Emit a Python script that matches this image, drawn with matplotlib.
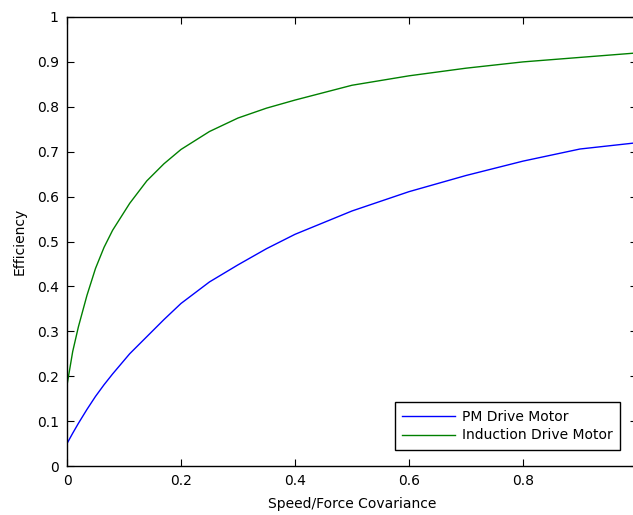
import matplotlib
matplotlib.use("Agg")
import matplotlib.pyplot as plt

plt.rcParams['font.family'] = ['DejaVu Sans']

# data
x = [0, 0.01, 0.02, 0.035, 0.05, 0.065, 0.08, 0.11, 0.14, 0.17, 0.2, 0.25, 0.3,
     0.35, 0.4, 0.5, 0.6, 0.7, 0.8, 0.9, 1.0]
pm_motor = [0.05, 0.073, 0.095, 0.126, 0.155, 0.181, 0.205, 0.25, 0.288, 0.326,
            0.362, 0.41, 0.448, 0.484, 0.516, 0.568, 0.611, 0.647, 0.679, 0.706, 0.72]
induction_motor = [0.18, 0.255, 0.31, 0.38, 0.44, 0.487, 0.525, 0.585, 0.635, 0.673,
                   0.705, 0.745, 0.775, 0.797, 0.815, 0.848, 0.869, 0.886, 0.90, 0.91, 0.92]

xticks = [0, 0.2, 0.4, 0.6, 0.8, 1.0]
xticklabels = ['0', '0.2', '0.4', '0.6', '0.8', '']
yticks = [0, 0.1, 0.2, 0.3, 0.4, 0.5, 0.6, 0.7, 0.8, 0.9, 1.0]
yticklabels = ['0', '0.1', '0.2', '0.3', '0.4', '0.5', '0.6', '0.7', '0.8', '0.9', '1']

W, H = 633, 515
fig = plt.figure(figsize=(W / 100, H / 100), dpi=100)
# axes right edge runs just past the picture, as in the reference crop
ax = fig.add_axes([67 / W, (H - 466) / H, 570 / W, 449 / H])

ax.plot(x, pm_motor, color='#0000ff', lw=1.0, label='PM Drive Motor')
ax.plot(x, induction_motor, color='#008000', lw=1.0, label='Induction Drive Motor')

ax.set_xlim(0, 1)
ax.set_ylim(0, 1)
ax.set_xticks(xticks)
ax.set_xticklabels(xticklabels)
ax.set_yticks(yticks)
ax.set_yticklabels(yticklabels)
ax.tick_params(direction='in', length=5, width=0.8, top=True, right=True,
               labelsize=10, pad=6, colors='black')
for s in ax.spines.values():
    s.set_linewidth(1.0)

ax.set_xlabel('Speed/Force Covariance', fontsize=10, labelpad=6)
ax.set_ylabel('Efficiency', fontsize=10, labelpad=7)

leg = ax.legend(loc='lower right', bbox_to_anchor=(0.970, 0.0356), borderaxespad=0,
                fancybox=False, shadow=False, framealpha=1, fontsize=10,
                handlelength=3.8, handletextpad=0.45, borderpad=0.55, labelspacing=0.35)
leg.get_frame().set_edgecolor('black')
leg.get_frame().set_linewidth(1.0)

fig.savefig('out.png', dpi=100)
